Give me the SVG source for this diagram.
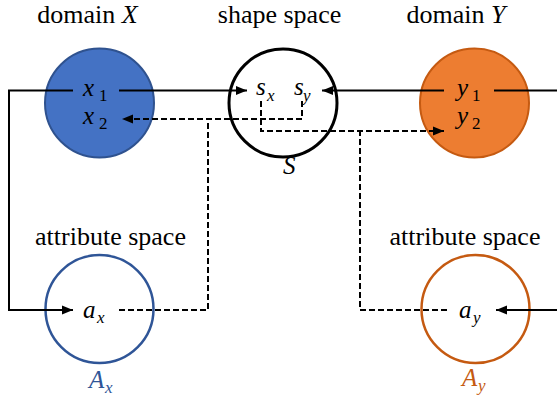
<svg xmlns="http://www.w3.org/2000/svg" width="557" height="405" viewBox="0 0 557 405">
<style>
.t{font-size:26px;fill:#000}
.m{font-style:italic;font-size:25px;fill:#000}
.sub{font-size:17px}
.up{font-style:normal}
.c{stroke:#000;stroke-width:2;fill:none}
.d{stroke:#000;stroke-width:2;fill:none;stroke-dasharray:6 3}
</style>
<defs>
<marker id="ah" markerUnits="userSpaceOnUse" markerWidth="12" markerHeight="10" refX="11" refY="5" orient="auto">
<path d="M0,0.5 L11,5 L0,9.5 Z" fill="#000"/>
</marker>
</defs>
<rect width="557" height="405" fill="#fff"/>

<g font-family="Liberation Serif, DejaVu Serif, serif">
<g id="nodeX">
<circle cx="99.5" cy="103" r="54.5" fill="#4472C4" stroke="#2F528F" stroke-width="2"/>
<text class="m" x="83" y="96">x<tspan class="sub up" x="99" y="101">1</tspan></text>
<text class="m" x="83" y="124">x<tspan class="sub up" x="99" y="129">2</tspan></text>
<text class="t" x="87.5" y="23" text-anchor="middle">domain <tspan font-style="italic">X</tspan></text>
</g>

<g id="nodeS">
<circle cx="283" cy="103" r="54" fill="#fff" stroke="#000" stroke-width="3"/>
<text class="m" x="256" y="95">s<tspan class="sub" x="267" y="101">x</tspan></text>
<text class="m" x="294" y="95">s<tspan class="sub" x="303" y="101">y</tspan></text>
<text class="t" x="279.5" y="23" text-anchor="middle">shape space</text>
<text class="m" x="283" y="174" font-size="26">S</text>
</g>

<g id="nodeY">
<circle cx="474.5" cy="103" r="54.5" fill="#ED7D31" stroke="#C55A11" stroke-width="2"/>
<text class="m" x="457" y="96">y<tspan class="sub up" x="472" y="101">1</tspan></text>
<text class="m" x="457" y="124">y<tspan class="sub up" x="472" y="129">2</tspan></text>
<text class="t" x="456" y="23" text-anchor="middle">domain <tspan font-style="italic">Y</tspan></text>
</g>

<g id="nodeAx">
<circle cx="99.5" cy="309" r="54" fill="#fff" stroke="#2F5597" stroke-width="2.5"/>
<text class="m" x="83" y="318">a<tspan class="sub" x="97" y="323">x</tspan></text>
<text class="t" x="110.5" y="245" text-anchor="middle">attribute space</text>
<text class="m" x="89" y="388" style="fill:#2F5597">A<tspan class="sub" x="105" y="393">x</tspan></text>
</g>

<g id="nodeAy">
<circle cx="475.5" cy="309" r="54" fill="#fff" stroke="#C55A11" stroke-width="2.5"/>
<text class="m" x="459" y="318">a<tspan class="sub" x="473" y="323">y</tspan></text>
<text class="t" x="465" y="245" text-anchor="middle">attribute space</text>
<text class="m" x="462" y="386" style="fill:#C55A11">A<tspan class="sub" x="478" y="391">y</tspan></text>
</g>
</g>

<g id="connectors">
<path class="c" d="M73,90.5 H9 V310 H73" marker-end="url(#ah)"/>
<path class="c" d="M119,90.5 H247" marker-end="url(#ah)"/>
<path class="c" d="M444,90.5 H322" marker-end="url(#ah)"/>
<path class="c" d="M494,90.5 H566 V310 H496" marker-end="url(#ah)"/>
<path class="d" d="M302,101 V119 H122" marker-end="url(#ah)"/>
<path class="d" d="M119,310 H208 V119"/>
<path class="d" d="M261,101 V131 H444" marker-end="url(#ah)"/>
<path class="d" d="M447,310 H360 V131"/>
</g>
</svg>
